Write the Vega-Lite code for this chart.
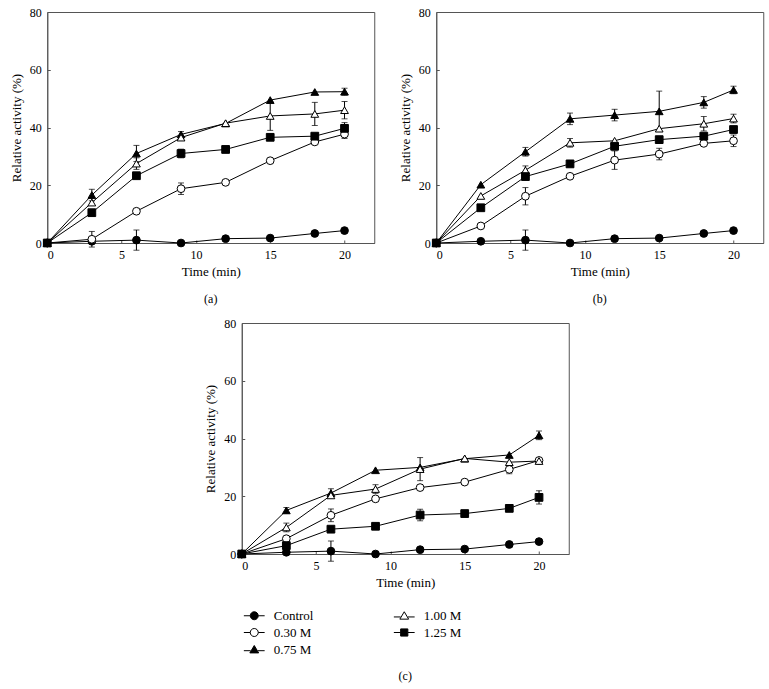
{
  "$schema": "https://vega.github.io/schema/vega-lite/v6.json",
  "background": "white",
  "padding": {"left": 9, "top": 5, "right": 5, "bottom": 5},
  "datasets": {
    "all": [
      {"p":"a","s":"Control","t":0,"v":0,"e":0},{"p":"a","s":"Control","t":3,"v":0.6,"e":0},{"p":"a","s":"Control","t":6,"v":1.0,"e":3.5},{"p":"a","s":"Control","t":9,"v":0,"e":0},{"p":"a","s":"Control","t":12,"v":1.5,"e":0},{"p":"a","s":"Control","t":15,"v":1.7,"e":0},{"p":"a","s":"Control","t":18,"v":3.3,"e":0},{"p":"a","s":"Control","t":20,"v":4.3,"e":0},
      {"p":"a","s":"0.30 M","t":0,"v":0,"e":0},{"p":"a","s":"0.30 M","t":3,"v":1.3,"e":2.7},{"p":"a","s":"0.30 M","t":6,"v":11,"e":0},{"p":"a","s":"0.30 M","t":9,"v":18.8,"e":2},{"p":"a","s":"0.30 M","t":12,"v":21,"e":0},{"p":"a","s":"0.30 M","t":15,"v":28.5,"e":0},{"p":"a","s":"0.30 M","t":18,"v":35,"e":0},{"p":"a","s":"0.30 M","t":20,"v":37.7,"e":1.5},
      {"p":"a","s":"0.75 M","t":0,"v":0,"e":0},{"p":"a","s":"0.75 M","t":3,"v":16.6,"e":2},{"p":"a","s":"0.75 M","t":6,"v":31,"e":2.8},{"p":"a","s":"0.75 M","t":9,"v":37.6,"e":1},{"p":"a","s":"0.75 M","t":12,"v":41.4,"e":0},{"p":"a","s":"0.75 M","t":15,"v":49.5,"e":0},{"p":"a","s":"0.75 M","t":18,"v":52.3,"e":0},{"p":"a","s":"0.75 M","t":20,"v":52.4,"e":1.2},
      {"p":"a","s":"1.00 M","t":0,"v":0,"e":0},{"p":"a","s":"1.00 M","t":3,"v":14,"e":0},{"p":"a","s":"1.00 M","t":6,"v":27.5,"e":2},{"p":"a","s":"1.00 M","t":9,"v":36.5,"e":0},{"p":"a","s":"1.00 M","t":12,"v":41.5,"e":0},{"p":"a","s":"1.00 M","t":15,"v":44,"e":5},{"p":"a","s":"1.00 M","t":18,"v":44.7,"e":4},{"p":"a","s":"1.00 M","t":20,"v":46,"e":3},
      {"p":"a","s":"1.25 M","t":0,"v":0,"e":0},{"p":"a","s":"1.25 M","t":3,"v":10.5,"e":0},{"p":"a","s":"1.25 M","t":6,"v":23.3,"e":0},{"p":"a","s":"1.25 M","t":9,"v":31,"e":1.5},{"p":"a","s":"1.25 M","t":12,"v":32.4,"e":0},{"p":"a","s":"1.25 M","t":15,"v":36.6,"e":0},{"p":"a","s":"1.25 M","t":18,"v":37,"e":0},{"p":"a","s":"1.25 M","t":20,"v":39.7,"e":2},

      {"p":"b","s":"Control","t":0,"v":0,"e":0},{"p":"b","s":"Control","t":3,"v":0.6,"e":0},{"p":"b","s":"Control","t":6,"v":1.0,"e":3.5},{"p":"b","s":"Control","t":9,"v":0,"e":0},{"p":"b","s":"Control","t":12,"v":1.5,"e":0},{"p":"b","s":"Control","t":15,"v":1.7,"e":0},{"p":"b","s":"Control","t":18,"v":3.3,"e":0},{"p":"b","s":"Control","t":20,"v":4.3,"e":0},
      {"p":"b","s":"0.30 M","t":0,"v":0,"e":0},{"p":"b","s":"0.30 M","t":3,"v":5.9,"e":0},{"p":"b","s":"0.30 M","t":6,"v":16.2,"e":3},{"p":"b","s":"0.30 M","t":9,"v":23.1,"e":0},{"p":"b","s":"0.30 M","t":12,"v":28.7,"e":3.2},{"p":"b","s":"0.30 M","t":15,"v":30.8,"e":2},{"p":"b","s":"0.30 M","t":18,"v":34.5,"e":0},{"p":"b","s":"0.30 M","t":20,"v":35.4,"e":2},
      {"p":"b","s":"0.75 M","t":0,"v":0,"e":0},{"p":"b","s":"0.75 M","t":3,"v":20.2,"e":0},{"p":"b","s":"0.75 M","t":6,"v":31.6,"e":1.5},{"p":"b","s":"0.75 M","t":9,"v":43,"e":2},{"p":"b","s":"0.75 M","t":12,"v":44.3,"e":2},{"p":"b","s":"0.75 M","t":15,"v":45.6,"e":7},{"p":"b","s":"0.75 M","t":18,"v":48.7,"e":2},{"p":"b","s":"0.75 M","t":20,"v":53,"e":1.3},
      {"p":"b","s":"1.00 M","t":0,"v":0,"e":0},{"p":"b","s":"1.00 M","t":3,"v":16.3,"e":0},{"p":"b","s":"1.00 M","t":6,"v":25.2,"e":1.5},{"p":"b","s":"1.00 M","t":9,"v":34.7,"e":1.5},{"p":"b","s":"1.00 M","t":12,"v":35.4,"e":0},{"p":"b","s":"1.00 M","t":15,"v":39.6,"e":0},{"p":"b","s":"1.00 M","t":18,"v":41.3,"e":2.5},{"p":"b","s":"1.00 M","t":20,"v":43.1,"e":1.5},
      {"p":"b","s":"1.25 M","t":0,"v":0,"e":0},{"p":"b","s":"1.25 M","t":3,"v":12.2,"e":0},{"p":"b","s":"1.25 M","t":6,"v":23,"e":0},{"p":"b","s":"1.25 M","t":9,"v":27.4,"e":0},{"p":"b","s":"1.25 M","t":12,"v":33.5,"e":0},{"p":"b","s":"1.25 M","t":15,"v":35.8,"e":0},{"p":"b","s":"1.25 M","t":18,"v":37,"e":1},{"p":"b","s":"1.25 M","t":20,"v":39.3,"e":0},

      {"p":"c","s":"Control","t":0,"v":0,"e":0},{"p":"c","s":"Control","t":3,"v":0.6,"e":0},{"p":"c","s":"Control","t":6,"v":1.0,"e":3.5},{"p":"c","s":"Control","t":9,"v":0,"e":0},{"p":"c","s":"Control","t":12,"v":1.5,"e":0},{"p":"c","s":"Control","t":15,"v":1.7,"e":0},{"p":"c","s":"Control","t":18,"v":3.3,"e":0},{"p":"c","s":"Control","t":20,"v":4.3,"e":0},
      {"p":"c","s":"0.30 M","t":0,"v":0,"e":0},{"p":"c","s":"0.30 M","t":3,"v":5.3,"e":0},{"p":"c","s":"0.30 M","t":6,"v":13.4,"e":2.2},{"p":"c","s":"0.30 M","t":9,"v":19.1,"e":0},{"p":"c","s":"0.30 M","t":12,"v":23,"e":0},{"p":"c","s":"0.30 M","t":15,"v":24.9,"e":0},{"p":"c","s":"0.30 M","t":18,"v":29.3,"e":1.5},{"p":"c","s":"0.30 M","t":20,"v":32.4,"e":0},
      {"p":"c","s":"0.75 M","t":0,"v":0,"e":0},{"p":"c","s":"0.75 M","t":3,"v":15.1,"e":1},{"p":"c","s":"0.75 M","t":6,"v":21.1,"e":1.5},{"p":"c","s":"0.75 M","t":9,"v":29,"e":0},{"p":"c","s":"0.75 M","t":12,"v":30,"e":0},{"p":"c","s":"0.75 M","t":15,"v":33,"e":0},{"p":"c","s":"0.75 M","t":18,"v":34.3,"e":0},{"p":"c","s":"0.75 M","t":20,"v":41.1,"e":1.5},
      {"p":"c","s":"1.00 M","t":0,"v":0,"e":0},{"p":"c","s":"1.00 M","t":3,"v":9.2,"e":1.5},{"p":"c","s":"1.00 M","t":6,"v":20.3,"e":0},{"p":"c","s":"1.00 M","t":9,"v":22.5,"e":1.5},{"p":"c","s":"1.00 M","t":12,"v":29.4,"e":4},{"p":"c","s":"1.00 M","t":15,"v":33.1,"e":0},{"p":"c","s":"1.00 M","t":18,"v":31.8,"e":0},{"p":"c","s":"1.00 M","t":20,"v":32.2,"e":0},
      {"p":"c","s":"1.25 M","t":0,"v":0,"e":0},{"p":"c","s":"1.25 M","t":3,"v":2.9,"e":0},{"p":"c","s":"1.25 M","t":6,"v":8.6,"e":0},{"p":"c","s":"1.25 M","t":9,"v":9.6,"e":0},{"p":"c","s":"1.25 M","t":12,"v":13.5,"e":2},{"p":"c","s":"1.25 M","t":15,"v":14,"e":0},{"p":"c","s":"1.25 M","t":18,"v":15.8,"e":0},{"p":"c","s":"1.25 M","t":20,"v":19.6,"e":2.3}
    ]
  },
  "vconcat": [
    {
      "hconcat": [
        {
          "title": {"text": "(a)", "offset": 16},
          "width": 327, "height": 231,
          "data": {"name": "all"},
          "transform": [{"filter": "datum.p === 'a'"}],
          "encoding": {
            "x": {"field": "t", "type": "quantitative", "scale": {"domain": [0, 22], "nice": false}, "axis": {"values": [0, 5, 10, 15, 20], "title": "Time (min)"}},
            "y": {"field": "v", "type": "quantitative", "scale": {"domain": [0, 80], "nice": false}, "axis": {"values": [0, 20, 40, 60, 80], "title": "Relative activity (%)"}}
          },
          "layer": [
            {"mark": {"type": "line", "color": "black", "strokeWidth": 1},
             "encoding": {"detail": {"field": "s"}}},
            {"transform": [{"filter": "datum.e > 0"}],
             "mark": {"type": "errorbar", "ticks": true, "color": "black", "size": 6, "thickness": 1},
             "encoding": {"yError": {"field": "e"}}},
            {"mark": {"type": "point", "filled": true, "stroke": "black", "strokeWidth": 1, "size": 60, "opacity": 1},
             "encoding": {
               "shape": {"field": "s", "type": "nominal", "scale": {"domain": ["Control","1.00 M","0.30 M","1.25 M","0.75 M"], "range": ["circle","triangle-up","circle","square","triangle-up"]}, "legend": null},
               "fill": {"field": "s", "type": "nominal", "scale": {"domain": ["Control","1.00 M","0.30 M","1.25 M","0.75 M"], "range": ["black","white","white","black","black"]}, "legend": null}
             }}
          ]
        },
        {
          "title": {"text": "(b)", "offset": 16},
          "width": 327, "height": 231,
          "data": {"name": "all"},
          "transform": [{"filter": "datum.p === 'b'"}],
          "encoding": {
            "x": {"field": "t", "type": "quantitative", "scale": {"domain": [0, 22], "nice": false}, "axis": {"values": [0, 5, 10, 15, 20], "title": "Time (min)"}},
            "y": {"field": "v", "type": "quantitative", "scale": {"domain": [0, 80], "nice": false}, "axis": {"values": [0, 20, 40, 60, 80], "title": "Relative activity (%)"}}
          },
          "layer": [
            {"mark": {"type": "line", "color": "black", "strokeWidth": 1},
             "encoding": {"detail": {"field": "s"}}},
            {"transform": [{"filter": "datum.e > 0"}],
             "mark": {"type": "errorbar", "ticks": true, "color": "black", "size": 6, "thickness": 1},
             "encoding": {"yError": {"field": "e"}}},
            {"mark": {"type": "point", "filled": true, "stroke": "black", "strokeWidth": 1, "size": 60, "opacity": 1},
             "encoding": {
               "shape": {"field": "s", "type": "nominal", "scale": {"domain": ["Control","1.00 M","0.30 M","1.25 M","0.75 M"], "range": ["circle","triangle-up","circle","square","triangle-up"]}, "legend": null},
               "fill": {"field": "s", "type": "nominal", "scale": {"domain": ["Control","1.00 M","0.30 M","1.25 M","0.75 M"], "range": ["black","white","white","black","black"]}, "legend": null}
             }}
          ]
        }
      ],
      "spacing": 23,
      "resolve": {"scale": {"shape": "independent", "fill": "independent"}, "legend": {"shape": "independent", "fill": "independent"}}
    },
    {
      "title": {"text": "(c)", "offset": 8},
      "width": 327, "height": 231,
      "data": {"name": "all"},
      "transform": [{"filter": "datum.p === 'c'"}],
      "encoding": {
        "x": {"field": "t", "type": "quantitative", "scale": {"domain": [0, 22], "nice": false}, "axis": {"values": [0, 5, 10, 15, 20], "title": "Time (min)"}},
        "y": {"field": "v", "type": "quantitative", "scale": {"domain": [0, 80], "nice": false}, "axis": {"values": [0, 20, 40, 60, 80], "title": "Relative activity (%)"}}
      },
      "layer": [
        {"mark": {"type": "line", "color": "black", "strokeWidth": 1},
         "encoding": {"detail": {"field": "s"}}},
        {"transform": [{"filter": "datum.e > 0"}],
         "mark": {"type": "errorbar", "ticks": true, "color": "black", "size": 6, "thickness": 1},
         "encoding": {"yError": {"field": "e"}}},
        {"mark": {"type": "point", "filled": true, "stroke": "black", "strokeWidth": 1, "size": 60, "opacity": 1},
         "encoding": {
           "shape": {"field": "s", "type": "nominal", "scale": {"domain": ["Control","1.00 M","0.30 M","1.25 M","0.75 M"], "range": ["circle","triangle-up","circle","square","triangle-up"]}, "legend": null},
           "fill": {"field": "s", "type": "nominal", "scale": {"domain": ["Control","1.00 M","0.30 M","1.25 M","0.75 M"], "range": ["black","white","white","black","black"]}, "legend": null}
         }},
        {"mark": {"type": "point", "filled": true, "size": 64, "opacity": 0},
         "encoding": {
           "shape": {"field": "s", "type": "nominal", "title": null,
             "scale": {"domain": ["Control","1.00 M","0.30 M","1.25 M","0.75 M"], "range": [
               "M-2.6,0H-1M1,0H2.6M-1,0A1,1,0,1,1,1,0A1,1,0,1,1,-1,0Z",
               "M-2.6,0.3H-0.9M0.9,0.3H2.6M0,-1L1.1,0.85L-1.1,0.85Z",
               "M-2.6,0H-1M1,0H2.6M-1,0A1,1,0,1,1,1,0A1,1,0,1,1,-1,0Z",
               "M-2.6,0H-0.9M0.9,0H2.6M-0.9,-0.9H0.9V0.9H-0.9Z",
               "M-2.6,0.3H-0.9M0.9,0.3H2.6M0,-1L1.1,0.85L-1.1,0.85Z"]},
             "legend": {"orient": "bottom", "direction": "horizontal", "columns": 2, "offset": 14, "padding": 6, "columnPadding": 78, "rowPadding": 3, "labelOffset": 13, "symbolSize": 64, "symbolOpacity": 1, "symbolStrokeWidth": 1}},
           "fill": {"field": "s", "type": "nominal", "title": null,
             "legend": {"orient": "bottom", "direction": "horizontal", "columns": 2, "offset": 14, "padding": 6, "columnPadding": 78, "rowPadding": 3, "labelOffset": 13, "symbolSize": 64, "symbolOpacity": 1, "symbolStrokeWidth": 1}},
           "stroke": {"field": "s", "type": "nominal", "title": null,
             "scale": {"domain": ["Control","1.00 M","0.30 M","1.25 M","0.75 M"], "range": ["black","black","black","black","black"]},
             "legend": {"orient": "bottom", "direction": "horizontal", "columns": 2, "offset": 14, "padding": 6, "columnPadding": 78, "rowPadding": 3, "labelOffset": 13, "symbolSize": 64, "symbolOpacity": 1, "symbolStrokeWidth": 1}}
         }}
      ],
      "resolve": {"scale": {"shape": "independent"}, "legend": {"shape": "independent", "fill": "independent", "stroke": "independent"}}
    }
  ],
  "spacing": 10,
  "center": true,
  "resolve": {"scale": {"shape": "independent", "fill": "independent", "stroke": "independent"}, "legend": {"shape": "independent", "fill": "independent", "stroke": "independent"}},
  "config": {
    "font": "Times New Roman, Liberation Serif, serif",
    "view": {"stroke": "#555", "strokeWidth": 1},
    "axis": {"grid": false, "labelFont": "Times New Roman, Liberation Serif, serif", "titleFont": "Times New Roman, Liberation Serif, serif", "labelFontSize": 12, "titleFontSize": 13, "titleFontWeight": "normal", "labelColor": "black", "titleColor": "black", "domainColor": "#555", "tickColor": "#555", "tickSize": -3, "labelPadding": 9},
    "axisX": {"titlePadding": 5},
    "axisY": {"titlePadding": 6},
    "title": {"font": "Times New Roman, Liberation Serif, serif", "fontSize": 12, "fontWeight": "normal", "orient": "bottom", "anchor": "middle", "color": "black"},
    "legend": {"labelFont": "Times New Roman, Liberation Serif, serif", "labelFontSize": 13, "labelColor": "black"}
  }
}
